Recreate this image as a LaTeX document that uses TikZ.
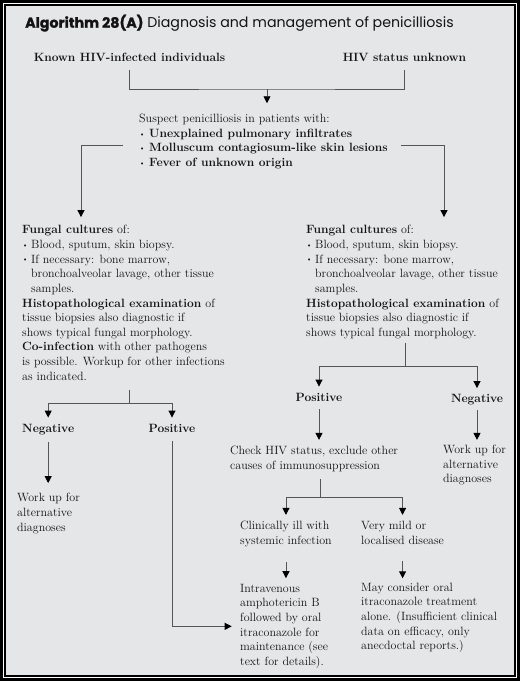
\documentclass[tikz,border=0pt]{standalone}
\usepackage{fontspec}
\newfontfamily\titlefont[BoldFeatures={FakeBold=1.3}]{Poppins}
\usetikzlibrary{arrows.meta,calc}
\definecolor{panel}{RGB}{229,230,232}
\definecolor{wire}{RGB}{85,85,85}
\definecolor{ink}{RGB}{20,18,18}
\newcommand{\bul}[1][9pt]{\makebox[#1][l]{\raisebox{1.2pt}{\scriptsize\textbullet}}}
\tikzstyle{txt}=[inner sep=0pt, align=left, text=ink, font=\fontsize{12}{14.65}\selectfont]
\tikzstyle{hdr}=[txt, font=\fontsize{12}{14.65}\selectfont\bfseries]
\tikzstyle{ln}=[draw=wire, line width=0.9pt]
\tikzstyle{arr}=[ln, -{Triangle[length=7pt,width=7pt,color=black]}]

\begin{document}
\begin{tikzpicture}[x=1pt,y=-1pt]
\useasboundingbox (0,0) rectangle (520,681);

% frame
\fill[black] (0,0) rectangle (520,681);
\fill[white] (3,3) rectangle (517,678);
\fill[black] (4,4) rectangle (516,677);
\fill[panel] (6,6) rectangle (514,675);

\node[anchor=base west, inner sep=0pt, text=ink] (title) at (25,27.7)
  {\titlefont\fontsize{14.2}{16}\selectfont\textbf{Algorithm 28(A)} Diagnosis and management of penicilliosis};

% % % top
\node[hdr, anchor=base] (known) at (129.5,61) {Known HIV-infected individuals};
\node[hdr, anchor=base] (unknown) at (404.5,61) {HIV status unknown};
\node[txt, anchor=base west] (suspect) at (139,122.4) {Suspect penicilliosis in patients with:};
\node[txt, anchor=north west] (signs) at (139,128.6)
  {\bul[10pt]\textbf{Unexplained pulmonary infiltrates}\\
   \bul[10pt]\textbf{Molluscum contagiosum-like skin lesions}\\
   \bul[10pt]\textbf{Fever of unknown origin}};

% % % work-up boxes
\node[txt, anchor=north west] (fungL) at (22,225.1)
  {\textbf{Fungal cultures} of:\\
   \bul Blood, sputum, skin biopsy.\\
   \bul If necessary: bone marrow,\\
   \hspace*{9pt}bronchoalveolar lavage, other tissue\\
   \hspace*{9pt}samples.\\
   \textbf{Histopathological examination} of\\
   tissue biopsies also diagnostic if\\
   shows typical fungal morphology.\\
   \textbf{Co-infection} with other pathogens\\
   is possible. Workup for other infections\\
   as indicated.};
\node[txt, anchor=north west] (fungR) at (306,225.1)
  {\textbf{Fungal cultures} of:\\
   \bul Blood, sputum, skin biopsy.\\
   \bul If necessary: bone marrow,\\
   \hspace*{9pt}bronchoalveolar lavage, other tissue\\
   \hspace*{9pt}samples.\\
   \textbf{Histopathological examination} of\\
   tissue biopsies also diagnostic if\\
   shows typical fungal morphology.};

% % % results
\node[hdr, anchor=base west] (negL) at (22,432) {Negative};
\node[hdr, anchor=base] (posL) at (172,432) {Positive};
\node[txt, anchor=north west] (workL) at (17,493.1) {Work up for\\ alternative\\ diagnoses};
\node[hdr, anchor=base] (posR) at (319,401) {Positive};
\node[hdr, anchor=base] (negR) at (477,402.5) {Negative};
\node[txt, anchor=north west] (check) at (230,445.9) {Check HIV status, exclude other\\ causes of immunosuppression};
\node[txt, anchor=north west] (workR) at (443,444.9) {Work up for\\ alternative\\ diagnoses};

% % % treatment
\node[txt, anchor=north west] (clin) at (240,520.9) {Clinically ill with\\ systemic infection};
\node[txt, anchor=north west] (mild) at (361,520.9) {Very mild or\\ localised disease};
\node[txt, anchor=north west] (iv) at (240,583.9)
  {Intravenous\\ amphotericin B\\ followed by oral\\ itraconazole for\\ maintenance (see\\ text for details).};
\node[txt, anchor=north west] (oral) at (361,582.6)
  {May consider oral\\ itraconazole treatment\\ alone. (Insufficient clinical\\ data on efficacy, only\\ anecdoctal reports.)};

% % % connectors
\coordinate (j1) at (267,89);
\draw[ln] ([yshift=-9pt]known.south) |- (j1) -| ([yshift=-9pt]unknown.south);
\draw[arr, shorten >=10.5pt] (j1) -- (j1 |- suspect.north);
\draw[arr] ([xshift=-16pt,yshift=3.5pt]signs.west) -| ([xshift=59pt,yshift=8pt]fungL.north west);
\draw[arr] ([xshift=13pt,yshift=3.5pt]signs.east) -| ([xshift=138pt,yshift=8pt]fungR.north west);

\coordinate (jL) at (129,403);
\draw[ln, shorten <=9pt] (jL |- fungL.south) -- (jL);
\draw[arr, shorten >=6pt] (jL) -| (negL.north);
\draw[arr, shorten >=6pt] (jL) -| (posL.north);
\draw[arr, shorten <=7pt, shorten >=10pt] (negL.south) -- (negL.south |- workL.north);
\draw[arr, shorten <=9pt, shorten >=8.3pt] (posL.south) |- (iv.west);

\coordinate (jR) at (405.7,366);
\draw[ln, shorten <=4pt] (jR |- fungR.south) -- (jR);
\draw[arr, shorten >=6pt] (jR) -| (posR.north);
\draw[arr, shorten >=6pt] (jR) -| (negR.north);
\draw[arr, shorten <=8pt, shorten >=6pt] (posR.south) -- (posR.south |- check.north);
\draw[arr, shorten <=4.7pt, shorten >=5pt] (negR.south) -- (negR.south |- workR.north);

\coordinate (jC) at (320,497);
\draw[ln, shorten <=7.7pt] (jC |- check.south) -- (jC);
\draw[arr, shorten >=6pt] (jC) -| (clin.north);
\draw[arr, shorten >=6pt] (jC) -| (mild.north);
\draw[arr, shorten <=15pt, shorten >=5.7pt] (clin.south) -- (clin.south |- iv.north);
\draw[arr, shorten <=17pt, shorten >=4.3pt] (mild.south) -- (mild.south |- oral.north);

\end{tikzpicture}
\end{document}
